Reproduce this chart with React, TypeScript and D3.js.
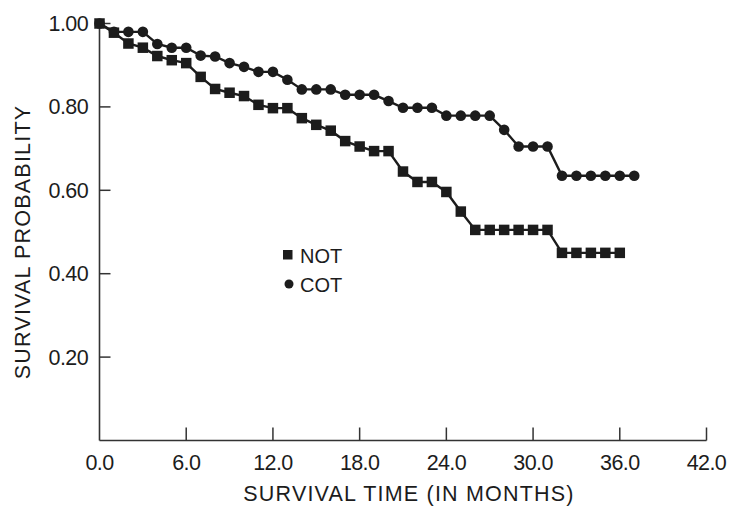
import React from "react";
import * as d3 from "d3";

const months = d3.range(0, 38);
const cotValues = [
  1.0, 0.98, 0.98, 0.98, 0.951, 0.942, 0.942, 0.923, 0.921, 0.905,
  0.896, 0.884, 0.884, 0.865, 0.842, 0.842, 0.842, 0.829, 0.829, 0.829,
  0.814, 0.798, 0.798, 0.798, 0.779, 0.779, 0.779, 0.779, 0.745, 0.705,
  0.705, 0.705, 0.635, 0.635, 0.635, 0.635, 0.635, 0.635,
];
const notValues = [
  1.0, 0.978, 0.952, 0.942, 0.922, 0.912, 0.905, 0.872, 0.843, 0.834,
  0.826, 0.805, 0.797, 0.797, 0.773, 0.757, 0.743, 0.718, 0.705, 0.694,
  0.694, 0.645, 0.62, 0.62, 0.596, 0.549, 0.505, 0.505, 0.505, 0.505,
  0.505, 0.505, 0.45, 0.45, 0.45, 0.45, 0.45,
];
const xTicks = [0, 6, 12, 18, 24, 30, 36, 42];
const yTicks = [0.2, 0.4, 0.6, 0.8, 1.0];
const legendLabels = ["NOT", "COT"];

const W = 730;
const H = 506;
const FONT = "'Liberation Sans', Arial, Helvetica, sans-serif";
const INK = "#1c1c1c";

export default function App() {
  const x = d3.scaleLinear().domain([0, 42]).range([99.5, 706.5]);
  const y = d3.scaleLinear().domain([0, 1]).range([440.5, 23.5]);

  const cot = cotValues.map((v, i) => [months[i], v] as [number, number]);
  const not = notValues.map((v, i) => [months[i], v] as [number, number]);
  const line = d3
    .line<[number, number]>()
    .x((d) => x(d[0]))
    .y((d) => y(d[1]));

  const sq = 10.5;
  const r = 5.3;

  return (
    <svg
      width={W}
      height={H}
      style={{ position: "absolute", left: 0, top: 0, background: "#fff" }}
    >
      {/* axes */}
      <line x1={x(0)} x2={x(0)} y1={y(1) - 2} y2={y(0)} stroke="#333" strokeWidth={1.6} />
      <line x1={x(0)} x2={x(42)} y1={y(0)} y2={y(0)} stroke="#333" strokeWidth={1.6} />
      {xTicks.map((t) => (
        <g key={"xt" + t}>
          {t > 0 && (
            <line x1={x(t)} x2={x(t)} y1={y(0)} y2={y(0) - 13} stroke="#333" strokeWidth={1.5} />
          )}
          <text
            x={x(t)}
            y={470}
            textAnchor="middle"
            fontFamily={FONT}
            fontSize={21.5}
            fill={INK}
            style={{ letterSpacing: "-0.6px" }}
          >
            {t.toFixed(1)}
          </text>
        </g>
      ))}
      {yTicks.map((t) => (
        <g key={"yt" + t}>
          <line x1={x(0)} x2={x(0) + 11} y1={y(t)} y2={y(t)} stroke="#333" strokeWidth={1.5} />
          <text
            x={88}
            y={y(t) + 7.5}
            textAnchor="end"
            fontFamily={FONT}
            fontSize={21.5}
            fill={INK}
            style={{ letterSpacing: "-0.6px" }}
          >
            {t.toFixed(2)}
          </text>
        </g>
      ))}
      <text
        x={409}
        y={501}
        textAnchor="middle"
        fontFamily={FONT}
        fontSize={21.5}
        fill={INK}
        style={{ letterSpacing: "1.2px" }}
      >
        SURVIVAL TIME (IN MONTHS)
      </text>
      <text
        transform={`translate(30, ${242}) rotate(-90)`}
        textAnchor="middle"
        fontFamily={FONT}
        fontSize={21.5}
        fill={INK}
        style={{ letterSpacing: "1.2px" }}
      >
        SURVIVAL PROBABILITY
      </text>

      {/* series */}
      <path d={line(cot) || ""} fill="none" stroke={INK} strokeWidth={2.4} />
      <path d={line(not) || ""} fill="none" stroke={INK} strokeWidth={2.4} />
      {cot.map((d, i) => (
        <circle key={"c" + i} cx={x(d[0])} cy={y(d[1])} r={r} fill={INK} />
      ))}
      {not.map((d, i) => (
        <rect
          key={"s" + i}
          x={x(d[0]) - sq / 2}
          y={y(d[1]) - sq / 2}
          width={sq}
          height={sq}
          fill={INK}
        />
      ))}

      {/* legend */}
      <rect x={283} y={250} width={9.5} height={9.5} fill={INK} />
      <text x={300} y={263} fontFamily={FONT} fontSize={20} fill={INK}>
        {legendLabels[0]}
      </text>
      <circle cx={289} cy={284} r={4.5} fill={INK} />
      <text x={300} y={292} fontFamily={FONT} fontSize={20} fill={INK}>
        {legendLabels[1]}
      </text>
    </svg>
  );
}
